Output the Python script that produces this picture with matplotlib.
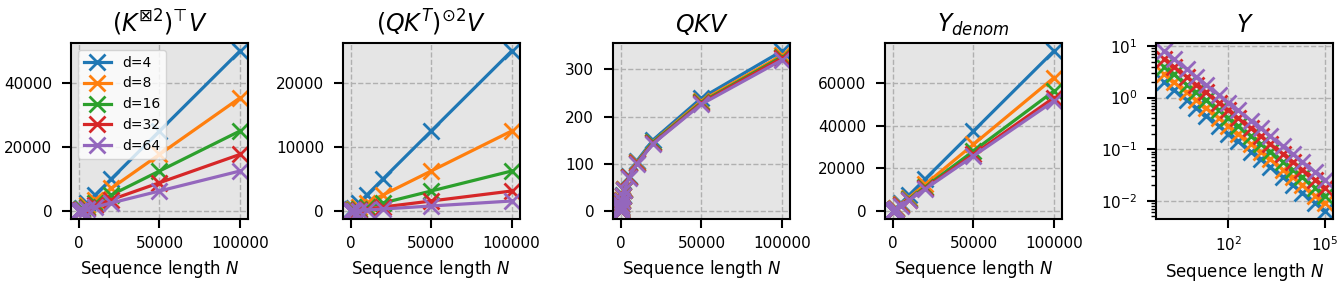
import numpy as np
import matplotlib
matplotlib.use("Agg")
import matplotlib.pyplot as plt
from matplotlib.ticker import FixedLocator, NullLocator

# sequence lengths (x values shared by every panel)
seq_len = [1, 2, 5, 10, 20, 50, 100, 200, 500, 1000, 2000, 5000, 10000, 20000, 50000, 100000]
dims = [4, 8, 16, 32, 64]
labels = ["d=4", "d=8", "d=16", "d=32", "d=64"]

# panel 1: (K^{boxtimes 2})^T V
kron_kv = [
    [0.5, 1, 2.5, 5, 10, 25, 50, 100, 250, 500, 1000, 2500, 5000, 10000, 25000, 50000],
    [0.35, 0.71, 1.77, 3.54, 7.07, 17.7, 35.4, 70.7, 177, 354, 707, 1768, 3536, 7071, 17678, 35355],
    [0.25, 0.5, 1.25, 2.5, 5, 12.5, 25, 50, 125, 250, 500, 1250, 2500, 5000, 12500, 25000],
    [0.18, 0.35, 0.88, 1.77, 3.54, 8.84, 17.7, 35.4, 88.4, 177, 354, 884, 1768, 3536, 8839, 17678],
    [0.12, 0.25, 0.62, 1.25, 2.5, 6.25, 12.5, 25, 62.5, 125, 250, 625, 1250, 2500, 6250, 12500],
]

# panel 2: (QK^T)^{odot 2} V
qk_sq_v = [
    [0.25, 0.5, 1.25, 2.5, 5, 12.5, 25, 50, 125, 250, 500, 1250, 2500, 5000, 12500, 25000],
    [0.12, 0.25, 0.62, 1.25, 2.5, 6.25, 12.5, 25, 62.5, 125, 250, 625, 1250, 2500, 6250, 12500],
    [0.06, 0.12, 0.31, 0.62, 1.25, 3.12, 6.25, 12.5, 31.2, 62.5, 125, 312, 625, 1250, 3125, 6250],
    [0.03, 0.06, 0.16, 0.31, 0.62, 1.56, 3.12, 6.25, 15.6, 31.2, 62.5, 156, 312, 625, 1562, 3125],
    [0.02, 0.03, 0.08, 0.16, 0.31, 0.78, 1.56, 3.12, 7.81, 15.6, 31.2, 78.1, 156, 312, 781, 1562],
]

# panel 3: QKV
qkv = [
    [1.1, 1.5, 2.4, 3.4, 4.8, 7.6, 10.7, 15.1, 23.9, 33.8, 47.9, 75.7, 107, 151, 239, 338],
    [1.0, 1.5, 2.3, 3.3, 4.7, 7.4, 10.4, 14.7, 23.3, 32.9, 46.5, 73.5, 104, 147, 233, 329],
    [1.0, 1.5, 2.3, 3.3, 4.6, 7.3, 10.3, 14.6, 23.0, 32.6, 46.1, 72.8, 103, 146, 230, 326],
    [1.0, 1.4, 2.3, 3.2, 4.6, 7.2, 10.2, 14.4, 22.8, 32.3, 45.6, 72.1, 102, 144, 228, 323],
    [1.0, 1.4, 2.3, 3.2, 4.5, 7.1, 10.1, 14.3, 22.6, 31.9, 45.2, 71.4, 101, 143, 226, 319],
]

# panel 4: Y_denom
y_denom = [
    [0.75, 1.5, 3.75, 7.5, 15, 37.5, 75, 150, 375, 750, 1500, 3750, 7500, 15000, 37500, 75000],
    [0.62, 1.25, 3.12, 6.25, 12.5, 31.2, 62.5, 125, 312, 625, 1250, 3125, 6250, 12500, 31250, 62500],
    [0.56, 1.12, 2.81, 5.62, 11.2, 28.1, 56.2, 112, 281, 562, 1125, 2812, 5625, 11250, 28125, 56250],
    [0.53, 1.06, 2.66, 5.31, 10.6, 26.6, 53.1, 106, 266, 531, 1062, 2656, 5312, 10625, 26562, 53125],
    [0.52, 1.03, 2.58, 5.16, 10.3, 25.8, 51.6, 103, 258, 516, 1031, 2578, 5156, 10312, 25781, 51562],
]

# panel 5: Y (log-log)
y_out = [
    [2.0, 1.41, 0.894, 0.632, 0.447, 0.283, 0.2, 0.141, 0.0894, 0.0632, 0.0447, 0.0283, 0.02, 0.0141, 0.00894, 0.00632],
    [2.83, 2.0, 1.26, 0.894, 0.632, 0.4, 0.283, 0.2, 0.126, 0.0894, 0.0632, 0.04, 0.0283, 0.02, 0.0126, 0.00894],
    [4.0, 2.83, 1.79, 1.26, 0.894, 0.566, 0.4, 0.283, 0.179, 0.126, 0.0894, 0.0566, 0.04, 0.0283, 0.0179, 0.0126],
    [5.66, 4.0, 2.53, 1.79, 1.26, 0.8, 0.566, 0.4, 0.253, 0.179, 0.126, 0.08, 0.0566, 0.04, 0.0253, 0.0179],
    [8.0, 5.66, 3.58, 2.53, 1.79, 1.13, 0.8, 0.566, 0.358, 0.253, 0.179, 0.113, 0.08, 0.0566, 0.0358, 0.0253],
]

titles = ["$(K^{\\boxtimes 2})^{\u22a4}V$", r"$(QK^T)^{\odot 2}V$", r"$QKV$",
          r"$Y_{denom}$", r"$Y$"]
panels = [kron_kv, qk_sq_v, qkv, y_denom, y_out]

plt.rcParams["font.size"] = 11

fig = plt.figure(figsize=(13.4, 3.0), dpi=100)
lefts = [71, 342.7, 613, 885, 1156]

for i, (series, title) in enumerate(zip(panels, titles)):
    ax = fig.add_axes([lefts[i] / 1340, 81 / 300, 177 / 1340, 176 / 300])
    ax.set_facecolor("#e5e5e5")
    for j, vals in enumerate(series):
        ax.plot(seq_len, vals, marker="x", markersize=11, markeredgewidth=2,
                linewidth=2.3, label=labels[j])
    ax.grid(True, linestyle="--", color="#b0b0b0", linewidth=1)
    ax.set_axisbelow(True)
    for s in ax.spines.values():
        s.set_linewidth(1.5)
    ax.tick_params(which="major", length=6.5, width=1.5, labelsize=11)
    ax.tick_params(axis="x", which="major", pad=5.5)
    ax.tick_params(axis="y", which="major", pad=7)
    ax.tick_params(which="minor", length=3.5, width=1)
    ax.set_title(title, fontsize=17, pad=8)
    ax.set_xlabel(r"Sequence length $N$", fontsize=12, labelpad=5)
    if i == 4:
        ax.set_xscale("log")
        ax.set_yscale("log")
        ax.xaxis.set_major_locator(FixedLocator([1e2, 1e5]))
        ax.xaxis.set_minor_locator(NullLocator())
    if i == 0:
        ax.legend(loc="upper left", fontsize=10, handlelength=2.0, framealpha=0.8)

fig.savefig("out.png", dpi=100)
